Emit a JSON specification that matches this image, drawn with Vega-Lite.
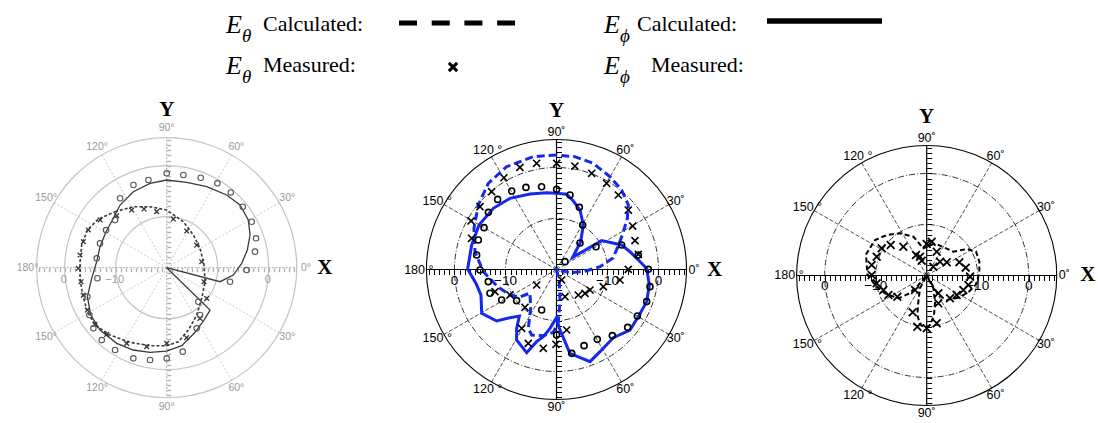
{
"$schema": "https://vega.github.io/schema/vega-lite/v6.json",
"background": "white",
"padding": 0,
"spacing": 0,
"bounds": "flush",
"config": {"view": {"stroke": null}, "concat": {"spacing": 0}},
"datasets": {
"legend": [
{"col":0,"row":0,"sub":"θ","lab":"Calculated:"},
{"col":1,"row":0,"sub":"ϕ","lab":"Calculated:"},
{"col":0,"row":1,"sub":"θ","lab":"Measured:"},
{"col":1,"row":1,"sub":"ϕ","lab":"Measured:"}
],
"rings": [{"r":10},{"r":20},{"r":25.5}],
"spokes": [{"ang":0},{"ang":30},{"ang":60},{"ang":90},{"ang":120},{"ang":150},{"ang":180},{"ang":210},{"ang":240},{"ang":270},{"ang":300},{"ang":330}],
"alab": [
{"ang":0,"t1":"0°","t2":"0˚"},{"ang":30,"t1":"30°","t2":"30˚"},{"ang":60,"t1":"60°","t2":"60˚"},{"ang":90,"t1":"90°","t2":"90˚"},
{"ang":120,"t1":"120°","t2":"120 °"},{"ang":150,"t1":"150°","t2":"150 °"},{"ang":180,"t1":"180°","t2":"180 °"},{"ang":210,"t1":"150°","t2":"150 °"},
{"ang":240,"t1":"120°","t2":"120 °"},{"ang":270,"t1":"90°","t2":"90˚"},{"ang":300,"t1":"60°","t2":"60˚"},{"ang":330,"t1":"30°","t2":"30˚"}
],
"rlab": [{"db":0,"ang":180,"t":"0"},{"db":-10,"ang":180,"t":"−10"},{"db":-10,"ang":0,"t":"−10"},{"db":0,"ang":0,"t":"0"}],
"xy": [{"t":"X","ang":0},{"t":"Y","ang":90}],
"curves": [
{"p":2,"s":"phc","i":1,"ang":179.7,"db":-2.58},{"p":2,"s":"phc","i":2,"ang":163.9,"db":-2.69},{"p":2,"s":"phc","i":3,"ang":150.1,"db":-2.48},{"p":2,"s":"phc","i":4,"ang":135.9,"db":-2.76},{"p":2,"s":"phc","i":5,"ang":123.2,"db":-3.33},{"p":2,"s":"phc","i":6,"ang":109.3,"db":-4.31},{"p":2,"s":"phc","i":7,"ang":97.3,"db":-4.81},{"p":2,"s":"phc","i":8,"ang":89.9,"db":-5.07},{"p":2,"s":"phc","i":9,"ang":82.3,"db":-5.12},{"p":2,"s":"phc","i":10,"ang":76.2,"db":-6.17},{"p":2,"s":"phc","i":11,"ang":68.4,"db":-7.46},{"p":2,"s":"phc","i":12,"ang":58.9,"db":-9.81},{"p":2,"s":"phc","i":13,"ang":49.0,"db":-12.77},{"p":2,"s":"phc","i":14,"ang":37.0,"db":-16.03},{"p":2,"s":"phc","i":15,"ang":32.6,"db":-9.49},{"p":2,"s":"phc","i":16,"ang":20.6,"db":-6.35},{"p":2,"s":"phc","i":17,"ang":13.6,"db":-5.17},{"p":2,"s":"phc","i":18,"ang":6.6,"db":-3.85},{"p":2,"s":"phc","i":19,"ang":0.7,"db":-2.32},{"p":2,"s":"phc","i":20,"ang":350.5,"db":-1.54},{"p":2,"s":"phc","i":21,"ang":340.4,"db":-1.23},{"p":2,"s":"phc","i":22,"ang":331.2,"db":-1.47},{"p":2,"s":"phc","i":23,"ang":320.5,"db":-1.33},{"p":2,"s":"phc","i":24,"ang":309.8,"db":-2.6},{"p":2,"s":"phc","i":25,"ang":297.9,"db":-1.77},{"p":2,"s":"phc","i":26,"ang":290.0,"db":-0.77},{"p":2,"s":"phc","i":27,"ang":279.1,"db":-3.35},{"p":2,"s":"phc","i":28,"ang":272.8,"db":-8.45},{"p":2,"s":"phc","i":29,"ang":270.0,"db":-10.56},{"p":2,"s":"phc","i":30,"ang":263.7,"db":-8.39},{"p":2,"s":"phc","i":31,"ang":258.9,"db":-6.58},{"p":2,"s":"phc","i":32,"ang":254.6,"db":-5.33},{"p":2,"s":"phc","i":33,"ang":250.3,"db":-2.67},{"p":2,"s":"phc","i":34,"ang":240.5,"db":-4.12},{"p":2,"s":"phc","i":35,"ang":235.9,"db":-6.07},{"p":2,"s":"phc","i":36,"ang":231.4,"db":-8.33},{"p":2,"s":"phc","i":37,"ang":226.0,"db":-6.87},{"p":2,"s":"phc","i":38,"ang":220.7,"db":-4.52},{"p":2,"s":"phc","i":39,"ang":210.4,"db":-3.0},{"p":2,"s":"phc","i":40,"ang":198.7,"db":-4.37},{"p":2,"s":"phc","i":41,"ang":189.8,"db":-3.99},{"p":2,"s":"phc","i":42,"ang":179.7,"db":-2.58},
{"p":2,"s":"thc","i":1,"ang":89.9,"db":2.45},{"p":2,"s":"thc","i":2,"ang":101.6,"db":2.59},{"p":2,"s":"thc","i":3,"ang":115.9,"db":2.41},{"p":2,"s":"thc","i":4,"ang":128.4,"db":1.54},{"p":2,"s":"thc","i":5,"ang":140.5,"db":-0.13},{"p":2,"s":"thc","i":6,"ang":153.5,"db":-1.92},{"p":2,"s":"thc","i":7,"ang":167.7,"db":-3.64},{"p":2,"s":"thc","i":8,"ang":181.7,"db":-5.65},{"p":2,"s":"thc","i":9,"ang":196.7,"db":-8.03},{"p":2,"s":"thc","i":10,"ang":208.7,"db":-9.6},{"p":2,"s":"thc","i":11,"ang":217.0,"db":-11.04},{"p":2,"s":"thc","i":12,"ang":221.6,"db":-13.05},{"p":2,"s":"thc","i":13,"ang":236.4,"db":-10.86},{"p":2,"s":"thc","i":14,"ang":244.4,"db":-7.21},{"p":2,"s":"thc","i":15,"ang":249.2,"db":-6.27},{"p":2,"s":"thc","i":16,"ang":258.7,"db":-6.77},{"p":2,"s":"thc","i":17,"ang":267.1,"db":-7.67},{"p":2,"s":"thc","i":18,"ang":272.0,"db":-9.76},{"p":2,"s":"thc","i":19,"ang":276.2,"db":-13.65},{"p":2,"s":"thc","i":20,"ang":283.1,"db":-17.55},{"p":2,"s":"thc","i":21,"ang":300,"db":-25},{"p":2,"s":"thc","i":22,"ang":346.8,"db":-17.28},{"p":2,"s":"thc","i":23,"ang":355.4,"db":-14.72},{"p":2,"s":"thc","i":24,"ang":3.7,"db":-11.45},{"p":2,"s":"thc","i":25,"ang":11.5,"db":-8.69},{"p":2,"s":"thc","i":26,"ang":20.4,"db":-7.14},{"p":2,"s":"thc","i":27,"ang":28.8,"db":-5.12},{"p":2,"s":"thc","i":28,"ang":35.8,"db":-2.87},{"p":2,"s":"thc","i":29,"ang":41.9,"db":-1.07},{"p":2,"s":"thc","i":30,"ang":50.7,"db":0.16},{"p":2,"s":"thc","i":31,"ang":60.0,"db":1.01},{"p":2,"s":"thc","i":32,"ang":70.9,"db":2.03},{"p":2,"s":"thc","i":33,"ang":80.7,"db":2.42},{"p":2,"s":"thc","i":34,"ang":89.9,"db":2.45},
{"p":2,"s":"thm","ang":109.7,"db":1.27},{"p":2,"s":"thm","ang":100.6,"db":1.18},{"p":2,"s":"thm","ang":89.9,"db":0.82},{"p":2,"s":"thm","ang":79.9,"db":0.61},{"p":2,"s":"thm","ang":69.9,"db":0.08},{"p":2,"s":"thm","ang":59.8,"db":-0.45},{"p":2,"s":"thm","ang":50.3,"db":-1.01},{"p":2,"s":"thm","ang":39.6,"db":-1.71},{"p":2,"s":"thm","ang":29.7,"db":-2.8},{"p":2,"s":"thm","ang":20.2,"db":-3.6},{"p":2,"s":"thm","ang":10.5,"db":-3.68},{"p":2,"s":"thm","ang":0.1,"db":-5.92},{"p":2,"s":"thm","ang":350.6,"db":-7.38},{"p":2,"s":"thm","ang":339.9,"db":-10.22},{"p":2,"s":"thm","ang":328.5,"db":-12.3},{"p":2,"s":"thm","ang":320.1,"db":-12.71},{"p":2,"s":"thm","ang":310.6,"db":-13.42},{"p":2,"s":"thm","ang":287.4,"db":-14.42},{"p":2,"s":"thm","ang":296.2,"db":-17.71},{"p":2,"s":"thm","ang":218.0,"db":-15.07},{"p":2,"s":"thm","ang":208.7,"db":-9.6},{"p":2,"s":"thm","ang":230.2,"db":-10.35},{"p":2,"s":"thm","ang":239.4,"db":-6.6},{"p":2,"s":"thm","ang":249.1,"db":-4.5},{"p":2,"s":"thm","ang":260.5,"db":-4.33},{"p":2,"s":"thm","ang":269.6,"db":-5.33},{"p":2,"s":"thm","ang":279.5,"db":-7.97},{"p":2,"s":"thm","ang":199.8,"db":-7.18},{"p":2,"s":"thm","ang":159.8,"db":-2.28},{"p":2,"s":"thm","ang":150.4,"db":-0.73},{"p":2,"s":"thm","ang":140.6,"db":-0.59},{"p":2,"s":"thm","ang":129.8,"db":-0.14},{"p":2,"s":"thm","ang":119.8,"db":0.74},
{"p":2,"s":"phm","ang":89.9,"db":-4.28},{"p":2,"s":"phm","ang":79.7,"db":-5.16},{"p":2,"s":"phm","ang":69.8,"db":-7.01},{"p":2,"s":"phm","ang":59.5,"db":-9.88},{"p":2,"s":"phm","ang":48.4,"db":-13.05},{"p":2,"s":"phm","ang":42.7,"db":-17.73},{"p":2,"s":"phm","ang":30.0,"db":-11.05},{"p":2,"s":"phm","ang":20.6,"db":-6.35},{"p":2,"s":"phm","ang":10.0,"db":-3.71},{"p":2,"s":"phm","ang":0.1,"db":-1.99},{"p":2,"s":"phm","ang":349.6,"db":-1.36},{"p":2,"s":"phm","ang":340.4,"db":-1.23},{"p":2,"s":"phm","ang":330.1,"db":-1.71},{"p":2,"s":"phm","ang":320.9,"db":-2.02},{"p":2,"s":"phm","ang":310.2,"db":-3.03},{"p":2,"s":"phm","ang":300.3,"db":-4.14},{"p":2,"s":"phm","ang":289.9,"db":-4.12},{"p":2,"s":"phm","ang":280.3,"db":-3.29},{"p":2,"s":"phm","ang":270.1,"db":-7.16},{"p":2,"s":"phm","ang":249.9,"db":-11.54},{"p":2,"s":"phm","ang":218.0,"db":-10.08},{"p":2,"s":"phm","ang":209.1,"db":-7.7},{"p":2,"s":"phm","ang":199.7,"db":-6.15},{"p":2,"s":"phm","ang":190.1,"db":-6.42},{"p":2,"s":"phm","ang":180.4,"db":-5.0},{"p":2,"s":"phm","ang":169.7,"db":-4.09},{"p":2,"s":"phm","ang":159.3,"db":-3.62},{"p":2,"s":"phm","ang":150.0,"db":-3.59},{"p":2,"s":"phm","ang":140.0,"db":-2.56},{"p":2,"s":"phm","ang":130.0,"db":-2.05},{"p":2,"s":"phm","ang":119.7,"db":-2.27},{"p":2,"s":"phm","ang":110.4,"db":-2.82},{"p":2,"s":"phm","ang":100.2,"db":-3.5},
{"p":3,"s":"thc","i":1,"ang":0,"db":-25},{"p":3,"s":"thc","i":2,"ang":300.9,"db":-15.54},{"p":3,"s":"thc","i":3,"ang":309.2,"db":-13.8},{"p":3,"s":"thc","i":4,"ang":325.0,"db":-12.42},{"p":3,"s":"thc","i":5,"ang":338.0,"db":-11.19},{"p":3,"s":"thc","i":6,"ang":349.8,"db":-10.17},{"p":3,"s":"thc","i":7,"ang":2.4,"db":-9.67},{"p":3,"s":"thc","i":8,"ang":14.7,"db":-9.32},{"p":3,"s":"thc","i":9,"ang":25.8,"db":-9.25},{"p":3,"s":"thc","i":10,"ang":33.5,"db":-10.59},{"p":3,"s":"thc","i":11,"ang":41.8,"db":-12.99},{"p":3,"s":"thc","i":12,"ang":75.5,"db":-13.48},{"p":3,"s":"thc","i":13,"ang":97.0,"db":-14.63},{"p":3,"s":"thc","i":14,"ang":108.9,"db":-11.95},{"p":3,"s":"thc","i":15,"ang":122.3,"db":-10.22},{"p":3,"s":"thc","i":16,"ang":134.6,"db":-8.84},{"p":3,"s":"thc","i":17,"ang":145.5,"db":-7.71},{"p":3,"s":"thc","i":18,"ang":160.8,"db":-7.4},{"p":3,"s":"thc","i":19,"ang":178.9,"db":-8.37},{"p":3,"s":"thc","i":20,"ang":190.4,"db":-9.7},{"p":3,"s":"thc","i":21,"ang":203.2,"db":-11.11},{"p":3,"s":"thc","i":22,"ang":218.9,"db":-12.86},{"p":3,"s":"thc","i":23,"ang":225.8,"db":-15.12},{"p":3,"s":"thc","i":24,"ang":228.7,"db":-17.52},{"p":3,"s":"thc","i":25,"ang":0,"db":-25},{"p":3,"s":"thc","i":26,"ang":242.5,"db":-17.16},{"p":3,"s":"thc","i":27,"ang":252.3,"db":-14.61},{"p":3,"s":"thc","i":28,"ang":256.7,"db":-12.04},{"p":3,"s":"thc","i":29,"ang":262.2,"db":-10.33},{"p":3,"s":"thc","i":30,"ang":268.2,"db":-9.76},{"p":3,"s":"thc","i":31,"ang":273.9,"db":-10.27},{"p":3,"s":"thc","i":32,"ang":280.5,"db":-12.12},{"p":3,"s":"thc","i":33,"ang":287.7,"db":-14.61},{"p":3,"s":"thc","i":34,"ang":297.5,"db":-17.16},{"p":3,"s":"thc","i":35,"ang":0,"db":-25},
{"p":3,"s":"thm","ang":148.9,"db":-9.69},{"p":3,"s":"thm","ang":139.7,"db":-10.75},{"p":3,"s":"thm","ang":129.0,"db":-12.73},{"p":3,"s":"thm","ang":117.5,"db":-15.47},{"p":3,"s":"thm","ang":109.5,"db":-16.08},{"p":3,"s":"thm","ang":108.6,"db":-16.93},{"p":3,"s":"thm","ang":90,"db":-13.82},{"p":3,"s":"thm","ang":81.6,"db":-13.29},{"p":3,"s":"thm","ang":67.2,"db":-14.93},{"p":3,"s":"thm","ang":53.0,"db":-17.83},{"p":3,"s":"thm","ang":46.1,"db":-16.23},{"p":3,"s":"thm","ang":33.4,"db":-15.31},{"p":3,"s":"thm","ang":22.0,"db":-13.09},{"p":3,"s":"thm","ang":11.4,"db":-12.2},{"p":3,"s":"thm","ang":358.5,"db":-11.5},{"p":3,"s":"thm","ang":347.2,"db":-11.62},{"p":3,"s":"thm","ang":338.4,"db":-12.27},{"p":3,"s":"thm","ang":327.0,"db":-12.99},{"p":3,"s":"thm","ang":315.6,"db":-13.6},{"p":3,"s":"thm","ang":292.7,"db":-14.08},{"p":3,"s":"thm","ang":281.8,"db":-10.42},{"p":3,"s":"thm","ang":270,"db":-9.64},{"p":3,"s":"thm","ang":259.7,"db":-9.8},{"p":3,"s":"thm","ang":249.2,"db":-12.27},{"p":3,"s":"thm","ang":231.2,"db":-16.35},{"p":3,"s":"thm","ang":215.8,"db":-12.91},{"p":3,"s":"thm","ang":207.0,"db":-11.57},{"p":3,"s":"thm","ang":198.5,"db":-11.04},{"p":3,"s":"thm","ang":188.9,"db":-10.08},{"p":3,"s":"thm","ang":179.5,"db":-9.22},{"p":3,"s":"thm","ang":169.2,"db":-9.02},{"p":3,"s":"thm","ang":159.4,"db":-9.52},{"p":3,"s":"thm","ang":303.2,"db":-15.82},
{"p":1,"s":"phc","i":1,"ang":0,"db":-25},{"p":1,"s":"phc","i":2,"ang":345.3,"db":-9.19},{"p":1,"s":"phc","i":3,"ang":353.7,"db":-6.85},{"p":1,"s":"phc","i":4,"ang":3.3,"db":-5.27},{"p":1,"s":"phc","i":5,"ang":12.4,"db":-3.81},{"p":1,"s":"phc","i":6,"ang":21.4,"db":-2.45},{"p":1,"s":"phc","i":7,"ang":30.3,"db":-1.46},{"p":1,"s":"phc","i":8,"ang":40.5,"db":-1.09},{"p":1,"s":"phc","i":9,"ang":50.5,"db":-1.52},{"p":1,"s":"phc","i":10,"ang":63.7,"db":-2.29},{"p":1,"s":"phc","i":11,"ang":76.8,"db":-2.82},{"p":1,"s":"phc","i":12,"ang":90,"db":-2.81},{"p":1,"s":"phc","i":13,"ang":101.2,"db":-3.14},{"p":1,"s":"phc","i":14,"ang":113.7,"db":-3.73},{"p":1,"s":"phc","i":15,"ang":126.7,"db":-4.68},{"p":1,"s":"phc","i":16,"ang":137.2,"db":-5.75},{"p":1,"s":"phc","i":17,"ang":149.3,"db":-6.17},{"p":1,"s":"phc","i":18,"ang":162.5,"db":-6.29},{"p":1,"s":"phc","i":19,"ang":175.1,"db":-6.22},{"p":1,"s":"phc","i":20,"ang":188.1,"db":-5.14},{"p":1,"s":"phc","i":21,"ang":200.1,"db":-3.44},{"p":1,"s":"phc","i":22,"ang":211.9,"db":-2.45},{"p":1,"s":"phc","i":23,"ang":223.1,"db":-2.1},{"p":1,"s":"phc","i":24,"ang":236.5,"db":-2.22},{"p":1,"s":"phc","i":25,"ang":247.9,"db":-2.58},{"p":1,"s":"phc","i":26,"ang":258.9,"db":-3.08},{"p":1,"s":"phc","i":27,"ang":270,"db":-3.66},{"p":1,"s":"phc","i":28,"ang":280.9,"db":-4.42},{"p":1,"s":"phc","i":29,"ang":293.7,"db":-6.16},{"p":1,"s":"phc","i":30,"ang":305.5,"db":-7.39},{"p":1,"s":"phc","i":31,"ang":315.7,"db":-8.12},{"p":1,"s":"phc","i":32,"ang":0,"db":-25},
{"p":1,"s":"thc","i":1,"ang":132.7,"db":-5.06},{"p":1,"s":"thc","i":2,"ang":118.7,"db":-6.37},{"p":1,"s":"thc","i":3,"ang":105.3,"db":-7.6},{"p":1,"s":"thc","i":4,"ang":90,"db":-8.69},{"p":1,"s":"thc","i":5,"ang":70.1,"db":-10.41},{"p":1,"s":"thc","i":6,"ang":50.8,"db":-11.73},{"p":1,"s":"thc","i":7,"ang":30.1,"db":-12.44},{"p":1,"s":"thc","i":8,"ang":4.1,"db":-12.66},{"p":1,"s":"thc","i":9,"ang":340.1,"db":-12.0},{"p":1,"s":"thc","i":10,"ang":318.8,"db":-10.88},{"p":1,"s":"thc","i":11,"ang":302.4,"db":-9.01},{"p":1,"s":"thc","i":12,"ang":289.2,"db":-7.06},{"p":1,"s":"thc","i":13,"ang":279.0,"db":-5.31},{"p":1,"s":"thc","i":14,"ang":270,"db":-4.71},{"p":1,"s":"thc","i":15,"ang":257.9,"db":-4.36},{"p":1,"s":"thc","i":16,"ang":243.8,"db":-3.69},{"p":1,"s":"thc","i":17,"ang":229.9,"db":-2.75},{"p":1,"s":"thc","i":18,"ang":218.7,"db":-2.01},{"p":1,"s":"thc","i":19,"ang":209.0,"db":-2.21},{"p":1,"s":"thc","i":20,"ang":198.0,"db":-2.68},{"p":1,"s":"thc","i":21,"ang":187.0,"db":-2.88},{"p":1,"s":"thc","i":22,"ang":176.0,"db":-2.97},{"p":1,"s":"thc","i":23,"ang":165.1,"db":-2.75},{"p":1,"s":"thc","i":24,"ang":154.6,"db":-2.78},{"p":1,"s":"thc","i":25,"ang":144.5,"db":-3.55},{"p":1,"s":"thc","i":26,"ang":132.7,"db":-5.06},
{"p":1,"s":"thm","ang":133.9,"db":-5.86},{"p":1,"s":"thm","ang":121.3,"db":-6.77},{"p":1,"s":"thm","ang":111.1,"db":-7.67},{"p":1,"s":"thm","ang":100.1,"db":-8.84},{"p":1,"s":"thm","ang":82.2,"db":-10.37},{"p":1,"s":"thm","ang":61.4,"db":-11.81},{"p":1,"s":"thm","ang":37.1,"db":-12.63},{"p":1,"s":"thm","ang":9.7,"db":-13.04},{"p":1,"s":"thm","ang":339.4,"db":-12.18},{"p":1,"s":"thm","ang":322.5,"db":-10.12},{"p":1,"s":"thm","ang":303.3,"db":-8.11},{"p":1,"s":"thm","ang":285.9,"db":-5.73},{"p":1,"s":"thm","ang":270,"db":-5.16},{"p":1,"s":"thm","ang":255.8,"db":-4.02},{"p":1,"s":"thm","ang":242.1,"db":-3.22},{"p":1,"s":"thm","ang":228.0,"db":-2.41},{"p":1,"s":"thm","ang":218.3,"db":-2.08},{"p":1,"s":"thm","ang":208.1,"db":-2.37},{"p":1,"s":"thm","ang":198.2,"db":-2.8},{"p":1,"s":"thm","ang":189.3,"db":-2.98},{"p":1,"s":"thm","ang":180.4,"db":-2.68},{"p":1,"s":"thm","ang":171.7,"db":-2.82},{"p":1,"s":"thm","ang":162.7,"db":-2.88},{"p":1,"s":"thm","ang":154.3,"db":-2.95},{"p":1,"s":"thm","ang":144.4,"db":-3.93},
{"p":1,"s":"phm","ang":90,"db":-1.5},{"p":1,"s":"phm","ang":79.8,"db":-1.54},{"p":1,"s":"phm","ang":69.3,"db":-1.14},{"p":1,"s":"phm","ang":59.0,"db":-0.71},{"p":1,"s":"phm","ang":49.6,"db":-0.62},{"p":1,"s":"phm","ang":38.7,"db":-0.89},{"p":1,"s":"phm","ang":28.4,"db":-1.05},{"p":1,"s":"phm","ang":18.2,"db":-1.56},{"p":1,"s":"phm","ang":10.3,"db":-2.4},{"p":1,"s":"phm","ang":358.3,"db":-4.31},{"p":1,"s":"phm","ang":347.5,"db":-7.28},{"p":1,"s":"phm","ang":312.9,"db":-10.89},{"p":1,"s":"phm","ang":305.2,"db":-8.65},{"p":1,"s":"phm","ang":296.3,"db":-6.73},{"p":1,"s":"phm","ang":280.8,"db":-3.24},{"p":1,"s":"phm","ang":270,"db":-2.22},{"p":1,"s":"phm","ang":259.8,"db":-1.6},{"p":1,"s":"phm","ang":249.8,"db":-1.06},{"p":1,"s":"phm","ang":237.9,"db":-0.94},{"p":1,"s":"phm","ang":228.1,"db":-0.93},{"p":1,"s":"phm","ang":219.6,"db":-1.34},{"p":1,"s":"phm","ang":211.5,"db":-2.22},{"p":1,"s":"phm","ang":200.1,"db":-3.44},{"p":1,"s":"phm","ang":188.7,"db":-6.25},{"p":1,"s":"phm","ang":172.4,"db":-6.15},{"p":1,"s":"phm","ang":160.0,"db":-6.08},{"p":1,"s":"phm","ang":148.2,"db":-6.0},{"p":1,"s":"phm","ang":137.3,"db":-6.22},{"p":1,"s":"phm","ang":111.9,"db":-2.52},{"p":1,"s":"phm","ang":101.8,"db":-2.44},{"p":1,"s":"phm","ang":123.9,"db":-3.61}
]
},
"vconcat": [
{
"width": 1098, "height": 95,
"data": {"name": "legend"},
"encoding": {
"x": {"field": "col", "type": "quantitative", "scale": {"domain": [0, 1], "range": [226, 604]}, "axis": null},
"y": {"field": "row", "type": "quantitative", "scale": {"domain": [0, 1], "range": [33, 74]}, "axis": null}
},
"layer": [
{"mark": {"type": "text", "text": "E", "font": "Liberation Serif", "fontStyle": "italic", "fontSize": 26, "align": "left", "baseline": "alphabetic", "color": "#000"}},
{"mark": {"type": "text", "font": "Liberation Serif", "fontStyle": "italic", "fontSize": 19, "align": "left", "baseline": "alphabetic", "dx": 16, "dy": 9, "color": "#000"}, "encoding": {"text": {"field": "sub"}}},
{"transform": [{"filter": "datum.col == 0"}], "mark": {"type": "text", "font": "Liberation Serif", "fontSize": 22, "align": "left", "baseline": "alphabetic", "dx": 37, "dy": -2, "color": "#000"}, "encoding": {"text": {"field": "lab"}}},
{"transform": [{"filter": "datum.col == 1 && datum.row == 0"}], "mark": {"type": "text", "font": "Liberation Serif", "fontSize": 22, "align": "left", "baseline": "alphabetic", "dx": 33, "dy": -2, "color": "#000"}, "encoding": {"text": {"field": "lab"}}},
{"transform": [{"filter": "datum.col == 1 && datum.row == 1"}], "mark": {"type": "text", "font": "Liberation Serif", "fontSize": 22, "align": "left", "baseline": "alphabetic", "dx": 47, "dy": -2, "color": "#000"}, "encoding": {"text": {"field": "lab"}}},
{"transform": [{"filter": "datum.col == 0 && datum.row == 0"}], "mark": {"type": "rule", "stroke": "#000", "strokeWidth": 5, "strokeDash": [18, 14.7], "xOffset": 173, "x2Offset": 289, "yOffset": -10, "y2Offset": -10}, "encoding": {"x2": {"field": "col"}, "y2": {"field": "row"}}},
{"transform": [{"filter": "datum.col == 1 && datum.row == 0"}], "mark": {"type": "rule", "stroke": "#000", "strokeWidth": 5.5, "xOffset": 163, "x2Offset": 278, "yOffset": -12, "y2Offset": -12}, "encoding": {"x2": {"field": "col"}, "y2": {"field": "row"}}},
{"transform": [{"filter": "datum.col == 0 && datum.row == 1"}], "mark": {"type": "point", "shape": "M-1,-1L1,1M-1,1L1,-1", "filled": false, "stroke": "#000", "strokeWidth": 3, "size": 70, "opacity": 1, "xOffset": 227, "yOffset": -7}}
]
},
{
"hconcat": [
{
"width": 366, "height": 328,
"encoding": {
"x": {"field": "x", "type": "quantitative", "scale": {"domain": [-32.69, 39.08], "nice": false, "zero": false}, "axis": {"orient": "bottom", "offset": -155.3, "values": [-25,-24,-23,-22,-21,-20,-19,-18,-17,-16,-15,-14,-13,-12,-11,-10,-9,-8,-7,-6,-5,-4,-3,-2,-1,1,2,3,4,5,6,7,8,9,10,11,12,13,14,15,16,17,18,19,20,21,22,23,24,25], "labels": false, "domain": false, "grid": false, "tickSize": 4, "tickColor": "#b0b0b0", "tickWidth": 1.3, "title": null}},
"y": {"field": "y", "type": "quantitative", "scale": {"domain": [-30.45, 33.86], "nice": false, "zero": false}, "axis": {"orient": "right", "offset": -199.3, "values": [-25,-24,-23,-22,-21,-20,-19,-18,-17,-16,-15,-14,-13,-12,-11,-10,-9,-8,-7,-6,-5,-4,-3,-2,-1,1,2,3,4,5,6,7,8,9,10,11,12,13,14,15,16,17,18,19,20,21,22,23,24,25], "labels": false, "domain": false, "grid": false, "tickSize": 4, "tickColor": "#b0b0b0", "tickWidth": 1.3, "title": null}}
},
"layer": [
{"data": {"name": "rings"}, "transform": [{"calculate": "0", "as": "x"}, {"calculate": "0", "as": "y"}], "mark": {"type": "point", "shape": "circle", "filled": false, "stroke": "#c4c4c4", "strokeWidth": 1.2, "opacity": 1}, "encoding": {"size": {"field": "r", "type": "quantitative", "scale": {"type": "pow", "exponent": 2, "domain": [0, 25.5], "range": [0, 67652], "zero": true}, "legend": null}}},
{"data": {"name": "spokes"}, "transform": [{"filter": "datum.ang % 90 != 0"}, {"calculate": "0", "as": "x"}, {"calculate": "0", "as": "y"}, {"calculate": "25.5*cos(datum.ang*PI/180)", "as": "x2"}, {"calculate": "25.5*sin(datum.ang*PI/180)", "as": "y2"}], "mark": {"type": "rule", "stroke": "#c8c8c8", "strokeWidth": 1, "strokeDash": [2, 2]}, "encoding": {"x2": {"field": "x2"}, "y2": {"field": "y2"}}},
{"data": {"name": "spokes"}, "transform": [{"filter": "datum.ang % 90 == 0"}, {"calculate": "0", "as": "x"}, {"calculate": "0", "as": "y"}, {"calculate": "25.5*cos(datum.ang*PI/180)", "as": "x2"}, {"calculate": "25.5*sin(datum.ang*PI/180)", "as": "y2"}], "mark": {"type": "rule", "stroke": "#b8b8b8", "strokeWidth": 1.3, "strokeDash": [2, 1.5]}, "encoding": {"x2": {"field": "x2"}, "y2": {"field": "y2"}}},
{"data": {"name": "alab"}, "transform": [{"calculate": "27.3*cos(datum.ang*PI/180)", "as": "x"}, {"calculate": "27.3*sin(datum.ang*PI/180)", "as": "y"}], "mark": {"type": "text", "font": "Liberation Sans", "fontSize": 10.5, "color": "#9a9a9a"}, "encoding": {"text": {"field": "t1"}}},
{"data": {"name": "rlab"}, "transform": [{"filter": "!(datum.db == -10 && datum.ang == 0)"}, {"calculate": "max(datum.db+20,0)", "as": "r"}, {"calculate": "datum.r*cos(datum.ang*PI/180)", "as": "x"}, {"calculate": "datum.r*sin(datum.ang*PI/180)", "as": "y"}], "mark": {"type": "text", "font": "Liberation Sans", "fontSize": 11, "color": "#9a9a9a", "dy": 12, "dx": -1}, "encoding": {"text": {"field": "t"}}},
{"data": {"name": "xy"}, "transform": [{"calculate": "31*cos(datum.ang*PI/180)", "as": "x"}, {"calculate": "31*sin(datum.ang*PI/180)", "as": "y"}], "mark": {"type": "text", "font": "Liberation Serif", "fontWeight": "bold", "fontSize": 21, "color": "#000"}, "encoding": {"text": {"field": "t"}}},
{"data": {"name": "curves"}, "transform": [{"filter": "datum.p == 1 && datum.s == 'thc'"}, {"calculate": "max(datum.db+20,0)", "as": "r"}, {"calculate": "datum.r*cos(datum.ang*PI/180)", "as": "x"}, {"calculate": "datum.r*sin(datum.ang*PI/180)", "as": "y"}], "mark": {"type": "line", "stroke": "#3a3a3a", "strokeWidth": 1.6, "strokeDash": [3, 2]}, "encoding": {"order": {"field": "i", "type": "quantitative"}}},
{"data": {"name": "curves"}, "transform": [{"filter": "datum.p == 1 && datum.s == 'phc'"}, {"calculate": "max(datum.db+20,0)", "as": "r"}, {"calculate": "datum.r*cos(datum.ang*PI/180)", "as": "x"}, {"calculate": "datum.r*sin(datum.ang*PI/180)", "as": "y"}], "mark": {"type": "line", "stroke": "#3a3a3a", "strokeWidth": 1.3}, "encoding": {"order": {"field": "i", "type": "quantitative"}}},
{"data": {"name": "curves"}, "transform": [{"filter": "datum.p == 1 && datum.s == 'thm'"}, {"calculate": "max(datum.db+20,0)", "as": "r"}, {"calculate": "datum.r*cos(datum.ang*PI/180)", "as": "x"}, {"calculate": "datum.r*sin(datum.ang*PI/180)", "as": "y"}], "mark": {"type": "point", "shape": "M-1,-1L1,1M-1,1L1,-1", "filled": false, "stroke": "#333", "strokeWidth": 1.3, "size": 22, "opacity": 1}},
{"data": {"name": "curves"}, "transform": [{"filter": "datum.p == 1 && datum.s == 'phm'"}, {"calculate": "max(datum.db+20,0)", "as": "r"}, {"calculate": "datum.r*cos(datum.ang*PI/180)", "as": "x"}, {"calculate": "datum.r*sin(datum.ang*PI/180)", "as": "y"}], "mark": {"type": "point", "shape": "circle", "filled": false, "stroke": "#555", "strokeWidth": 1.1, "size": 30, "opacity": 1}}
]
},
{
"width": 375, "height": 328,
"encoding": {
"x": {"field": "x", "type": "quantitative", "scale": {"domain": [-37.35, 36.18], "nice": false, "zero": false}, "axis": {"orient": "bottom", "offset": -153.5, "values": [-25,-24,-23,-22,-21,-20,-19,-18,-17,-16,-15,-14,-13,-12,-11,-10,-9,-8,-7,-6,-5,-4,-3,-2,-1,1,2,3,4,5,6,7,8,9,10,11,12,13,14,15,16,17,18,19,20,21,22,23,24,25], "labels": false, "domain": false, "grid": false, "tickSize": 5, "tickColor": "#000", "tickWidth": 1, "title": null}},
"y": {"field": "y", "type": "quantitative", "scale": {"domain": [-30.10, 34.22], "nice": false, "zero": false}, "axis": {"orient": "right", "offset": -184.5, "values": [-25,-24,-23,-22,-21,-20,-19,-18,-17,-16,-15,-14,-13,-12,-11,-10,-9,-8,-7,-6,-5,-4,-3,-2,-1,1,2,3,4,5,6,7,8,9,10,11,12,13,14,15,16,17,18,19,20,21,22,23,24,25], "labels": false, "domain": false, "grid": false, "tickSize": 5, "tickColor": "#000", "tickWidth": 1, "title": null}}
},
"layer": [
{"data": {"name": "rings"}, "transform": [{"filter": "datum.r < 25"}, {"calculate": "0", "as": "x"}, {"calculate": "0", "as": "y"}], "mark": {"type": "point", "shape": "circle", "filled": false, "stroke": "#000", "strokeWidth": 0.8, "strokeDash": [6, 2, 1, 2], "opacity": 1}, "encoding": {"size": {"field": "r", "type": "quantitative", "scale": {"type": "pow", "exponent": 2, "domain": [0, 25.5], "range": [0, 67652], "zero": true}, "legend": null}}},
{"data": {"name": "rings"}, "transform": [{"filter": "datum.r > 25"}, {"calculate": "0", "as": "x"}, {"calculate": "0", "as": "y"}], "mark": {"type": "point", "shape": "circle", "filled": false, "stroke": "#000", "strokeWidth": 1.1, "opacity": 1}, "encoding": {"size": {"field": "r", "type": "quantitative", "scale": {"type": "pow", "exponent": 2, "domain": [0, 25.5], "range": [0, 67652], "zero": true}, "legend": null}}},
{"data": {"name": "spokes"}, "transform": [{"filter": "datum.ang % 90 != 0"}, {"calculate": "0", "as": "x"}, {"calculate": "0", "as": "y"}, {"calculate": "25.5*cos(datum.ang*PI/180)", "as": "x2"}, {"calculate": "25.5*sin(datum.ang*PI/180)", "as": "y2"}], "mark": {"type": "rule", "stroke": "#000", "strokeWidth": 0.7, "strokeDash": [4, 2]}, "encoding": {"x2": {"field": "x2"}, "y2": {"field": "y2"}}},
{"data": {"name": "spokes"}, "transform": [{"filter": "datum.ang % 90 == 0"}, {"calculate": "0", "as": "x"}, {"calculate": "0", "as": "y"}, {"calculate": "25.5*cos(datum.ang*PI/180)", "as": "x2"}, {"calculate": "25.5*sin(datum.ang*PI/180)", "as": "y2"}], "mark": {"type": "rule", "stroke": "#000", "strokeWidth": 1.2}, "encoding": {"x2": {"field": "x2"}, "y2": {"field": "y2"}}},
{"data": {"name": "alab"}, "transform": [{"calculate": "27*cos(datum.ang*PI/180)", "as": "x"}, {"calculate": "27*sin(datum.ang*PI/180)", "as": "y"}], "mark": {"type": "text", "font": "Liberation Sans", "fontSize": 12.5, "color": "#000"}, "encoding": {"text": {"field": "t2"}}},
{"data": {"name": "rlab"}, "transform": [{"calculate": "max(datum.db+20,0)", "as": "r"}, {"calculate": "datum.r*cos(datum.ang*PI/180)", "as": "x"}, {"calculate": "datum.r*sin(datum.ang*PI/180)", "as": "y"}], "mark": {"type": "text", "font": "Liberation Sans", "fontSize": 13.5, "color": "#000", "dy": 11}, "encoding": {"text": {"field": "t"}}},
{"data": {"name": "xy"}, "transform": [{"calculate": "31*cos(datum.ang*PI/180)", "as": "x"}, {"calculate": "31*sin(datum.ang*PI/180)", "as": "y"}], "mark": {"type": "text", "font": "Liberation Serif", "fontWeight": "bold", "fontSize": 21, "color": "#000"}, "encoding": {"text": {"field": "t"}}},
{"data": {"name": "curves"}, "transform": [{"filter": "datum.p == 2 && datum.s == 'thc'"}, {"calculate": "max(datum.db+20,0)", "as": "r"}, {"calculate": "datum.r*cos(datum.ang*PI/180)", "as": "x"}, {"calculate": "datum.r*sin(datum.ang*PI/180)", "as": "y"}], "mark": {"type": "line", "stroke": "#1428ee", "strokeWidth": 3, "strokeDash": [8, 4]}, "encoding": {"order": {"field": "i", "type": "quantitative"}}},
{"data": {"name": "curves"}, "transform": [{"filter": "datum.p == 2 && datum.s == 'phc'"}, {"calculate": "max(datum.db+20,0)", "as": "r"}, {"calculate": "datum.r*cos(datum.ang*PI/180)", "as": "x"}, {"calculate": "datum.r*sin(datum.ang*PI/180)", "as": "y"}], "mark": {"type": "line", "stroke": "#1428ee", "strokeWidth": 3}, "encoding": {"order": {"field": "i", "type": "quantitative"}}},
{"data": {"name": "curves"}, "transform": [{"filter": "datum.p == 2 && datum.s == 'thm'"}, {"calculate": "max(datum.db+20,0)", "as": "r"}, {"calculate": "datum.r*cos(datum.ang*PI/180)", "as": "x"}, {"calculate": "datum.r*sin(datum.ang*PI/180)", "as": "y"}], "mark": {"type": "point", "shape": "M-1,-1L1,1M-1,1L1,-1", "filled": false, "stroke": "#000", "strokeWidth": 1.6, "size": 50, "opacity": 1}},
{"data": {"name": "curves"}, "transform": [{"filter": "datum.p == 2 && datum.s == 'phm'"}, {"calculate": "max(datum.db+20,0)", "as": "r"}, {"calculate": "datum.r*cos(datum.ang*PI/180)", "as": "x"}, {"calculate": "datum.r*sin(datum.ang*PI/180)", "as": "y"}], "mark": {"type": "point", "shape": "circle", "filled": false, "stroke": "#000", "strokeWidth": 1.6, "size": 36, "opacity": 1}}
]
},
{
"width": 357, "height": 328,
"encoding": {
"x": {"field": "x", "type": "quantitative", "scale": {"domain": [-36.41, 33.59], "nice": false, "zero": false}, "axis": {"orient": "bottom", "offset": -147.5, "values": [-25,-24,-23,-22,-21,-20,-19,-18,-17,-16,-15,-14,-13,-12,-11,-10,-9,-8,-7,-6,-5,-4,-3,-2,-1,1,2,3,4,5,6,7,8,9,10,11,12,13,14,15,16,17,18,19,20,21,22,23,24,25], "labels": false, "domain": false, "grid": false, "tickSize": 5, "tickColor": "#000", "tickWidth": 1, "title": null}},
"y": {"field": "y", "type": "quantitative", "scale": {"domain": [-28.92, 35.39], "nice": false, "zero": false}, "axis": {"orient": "right", "offset": -171.3, "values": [-25,-24,-23,-22,-21,-20,-19,-18,-17,-16,-15,-14,-13,-12,-11,-10,-9,-8,-7,-6,-5,-4,-3,-2,-1,1,2,3,4,5,6,7,8,9,10,11,12,13,14,15,16,17,18,19,20,21,22,23,24,25], "labels": false, "domain": false, "grid": false, "tickSize": 5, "tickColor": "#000", "tickWidth": 1, "title": null}}
},
"layer": [
{"data": {"name": "rings"}, "transform": [{"filter": "datum.r < 25"}, {"calculate": "0", "as": "x"}, {"calculate": "0", "as": "y"}], "mark": {"type": "point", "shape": "circle", "filled": false, "stroke": "#000", "strokeWidth": 0.8, "strokeDash": [6, 2, 1, 2], "opacity": 1}, "encoding": {"size": {"field": "r", "type": "quantitative", "scale": {"type": "pow", "exponent": 2, "domain": [0, 25.5], "range": [0, 67652], "zero": true}, "legend": null}}},
{"data": {"name": "rings"}, "transform": [{"filter": "datum.r > 25"}, {"calculate": "0", "as": "x"}, {"calculate": "0", "as": "y"}], "mark": {"type": "point", "shape": "circle", "filled": false, "stroke": "#000", "strokeWidth": 1.1, "opacity": 1}, "encoding": {"size": {"field": "r", "type": "quantitative", "scale": {"type": "pow", "exponent": 2, "domain": [0, 25.5], "range": [0, 67652], "zero": true}, "legend": null}}},
{"data": {"name": "spokes"}, "transform": [{"filter": "datum.ang % 90 != 0"}, {"calculate": "0", "as": "x"}, {"calculate": "0", "as": "y"}, {"calculate": "25.5*cos(datum.ang*PI/180)", "as": "x2"}, {"calculate": "25.5*sin(datum.ang*PI/180)", "as": "y2"}], "mark": {"type": "rule", "stroke": "#000", "strokeWidth": 0.7, "strokeDash": [4, 2]}, "encoding": {"x2": {"field": "x2"}, "y2": {"field": "y2"}}},
{"data": {"name": "spokes"}, "transform": [{"filter": "datum.ang % 90 == 0"}, {"calculate": "0", "as": "x"}, {"calculate": "0", "as": "y"}, {"calculate": "25.5*cos(datum.ang*PI/180)", "as": "x2"}, {"calculate": "25.5*sin(datum.ang*PI/180)", "as": "y2"}], "mark": {"type": "rule", "stroke": "#000", "strokeWidth": 1.2}, "encoding": {"x2": {"field": "x2"}, "y2": {"field": "y2"}}},
{"data": {"name": "alab"}, "transform": [{"calculate": "27*cos(datum.ang*PI/180)", "as": "x"}, {"calculate": "27*sin(datum.ang*PI/180)", "as": "y"}], "mark": {"type": "text", "font": "Liberation Sans", "fontSize": 12.5, "color": "#000"}, "encoding": {"text": {"field": "t2"}}},
{"data": {"name": "rlab"}, "transform": [{"calculate": "max(datum.db+20,0)", "as": "r"}, {"calculate": "datum.r*cos(datum.ang*PI/180)", "as": "x"}, {"calculate": "datum.r*sin(datum.ang*PI/180)", "as": "y"}], "mark": {"type": "text", "font": "Liberation Sans", "fontSize": 13.5, "color": "#000", "dy": 11}, "encoding": {"text": {"field": "t"}}},
{"data": {"name": "xy"}, "transform": [{"calculate": "(datum.ang == 0 ? 31.6 : 31)*cos(datum.ang*PI/180)", "as": "x"}, {"calculate": "(datum.ang == 0 ? 31.6 : 31)*sin(datum.ang*PI/180)", "as": "y"}], "mark": {"type": "text", "font": "Liberation Serif", "fontWeight": "bold", "fontSize": 21, "color": "#000"}, "encoding": {"text": {"field": "t"}}},
{"data": {"name": "curves"}, "transform": [{"filter": "datum.p == 3 && datum.s == 'thc'"}, {"calculate": "max(datum.db+20,0)", "as": "r"}, {"calculate": "datum.r*cos(datum.ang*PI/180)", "as": "x"}, {"calculate": "datum.r*sin(datum.ang*PI/180)", "as": "y"}], "mark": {"type": "line", "stroke": "#000", "strokeWidth": 2, "strokeDash": [5, 3]}, "encoding": {"order": {"field": "i", "type": "quantitative"}}},
{"data": {"name": "curves"}, "transform": [{"filter": "datum.p == 3 && datum.s == 'thm'"}, {"calculate": "max(datum.db+20,0)", "as": "r"}, {"calculate": "datum.r*cos(datum.ang*PI/180)", "as": "x"}, {"calculate": "datum.r*sin(datum.ang*PI/180)", "as": "y"}], "mark": {"type": "point", "shape": "M-1,-1L1,1M-1,1L1,-1", "filled": false, "stroke": "#000", "strokeWidth": 1.8, "size": 60, "opacity": 1}}
]
}
],
"spacing": 0,
"bounds": "flush"
}
]
}
